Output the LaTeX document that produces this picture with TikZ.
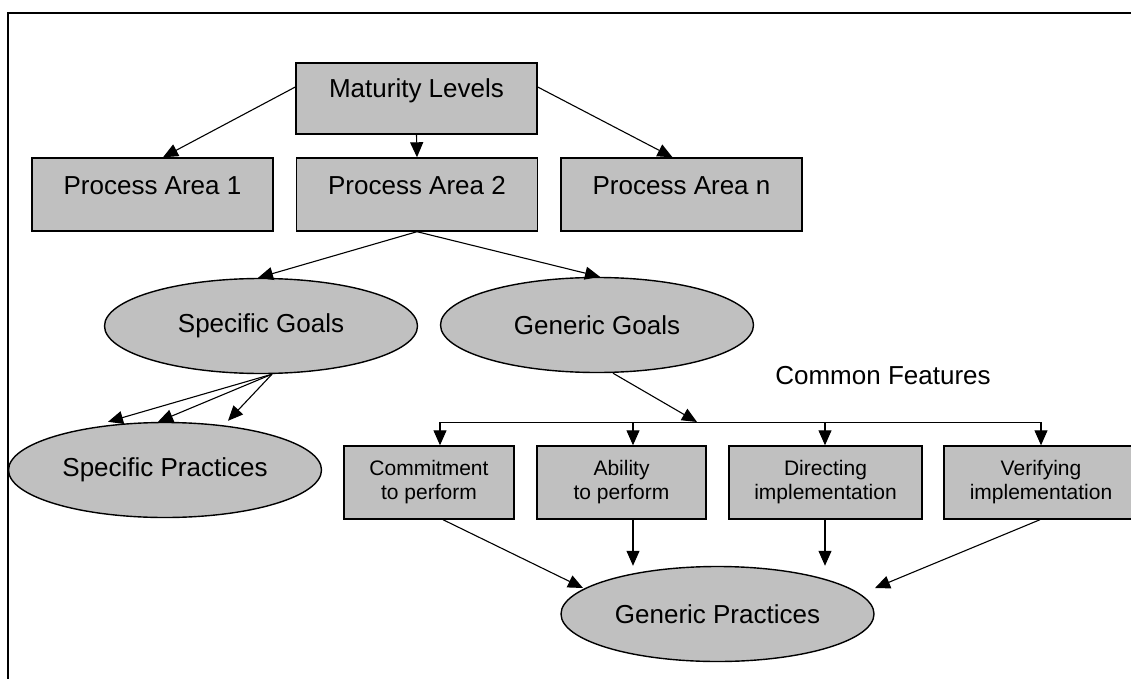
\documentclass[tikz,border=0pt]{standalone}
\usepackage{fontspec}
\setmainfont{Liberation Sans}
\usetikzlibrary{arrows.meta,shapes.geometric,calc}
\definecolor{boxgray}{RGB}{192,192,192}
\begin{document}
\begin{tikzpicture}[x=1pt,y=-1pt,
  bigbox/.style={draw, fill=boxgray, line width=1.4pt, inner sep=0pt,
    minimum width=241pt, text height=36pt, text depth=37pt,
    font=\fontsize{26}{30}\selectfont},
  smallbox/.style={draw, fill=boxgray, line width=1.4pt, inner sep=0pt,
    minimum height=73pt, align=center, font=\fontsize{21}{24}\selectfont},
  oval/.style={draw, fill=boxgray, ellipse, line width=1.4pt, inner sep=0pt,
    minimum width=313pt, minimum height=95pt, font=\fontsize{26}{30}\selectfont},
  arr/.style={-{Triangle[length=15pt,width=13pt]}, line width=1.1pt},
  busline/.style={line width=0.9pt},
  frameline/.style={line width=1.3pt}]
\clip (0,0) rectangle (1131,679);
% frame
\draw[frameline] (8,679) -- (8,13) -- (1131,13);
% top level
\node[bigbox, text height=35pt, text depth=36pt] (ml) at (416.5,98.5) {Maturity Levels};
\node[bigbox] (pa1) at (152.5,194.5) {Process Area 1};
\node[bigbox] (pa2) at (417,194.5) {Process Area 2};
\node[bigbox] (pan) at (681.5,194.5) {Process Area n};
% goals
\node[oval] (sg) at (261,326) {Specific Goals};
\node[oval] (gg) at (597,325) {Generic Goals};
\node[oval] (sp) at (165,470) {Specific Practices};
\node[oval] (gp) at (717.5,614) {Generic Practices};
% common features
\node[font=\fontsize{26}{30}\selectfont, inner sep=0pt] (cf) at (883,376) {Common Features};
\node[smallbox, minimum width=170pt] (c1) at (429,482.5) {Commitment\\to perform};
\node[smallbox, minimum width=169pt] (c2) at (621.5,482.5) {Ability\\to perform};
\node[smallbox, minimum width=193pt] (c3) at (825.5,482.5) {Directing\\implementation};
\node[smallbox, minimum width=194pt] (c4) at (1041,482.5) {Verifying\\implementation};
% bus coordinates
\coordinate (d1) at (440,422);
\coordinate (d2) at (633,422);
\coordinate (d3) at (825,422);
\coordinate (d4) at (1041,422);
\coordinate (hit) at (697,422);
% connectors
\draw[arr] ($(ml.west)+(0,-11.5)$) -- ($(pa1.north)+(10.5,0)$);
\draw[arr] (ml.south) -- (pa2.north);
\draw[arr] ($(ml.east)+(0,-11.5)$) -- ($(pan.north)+(-9,0)$);
\draw[arr] (pa2.south) -- ($(sg.north)+(-3,0)$);
\draw[arr] (pa2.south) -- ($(gg.north)+(3,0)$);
\draw[arr] ($(sg.south)+(11,0)$) -- ($(sp.north)+(-57,0)$);
\draw[arr] ($(sg.south)+(11,0)$) -- ($(sp.north)+(-7,0)$);
\draw[arr] ($(sg.south)+(11,0)$) -- ($(sp.north)+(63,-1)$);
\draw[arr] ($(gg.south)+(16,0)$) -- (hit);
\draw[busline] (d1) -- (d4);
\draw[arr] (d1) -- (d1 |- c1.north);
\draw[arr] (d2) -- (d2 |- c2.north);
\draw[arr] (d3) -- (d3 |- c3.north);
\draw[arr] (d4) -- (d4 |- c4.north);
\draw[arr] ($(c1.south)+(14,0)$) -- ($(gp.center)+(-134.5,-26)$);
\draw[arr] (d2 |- c2.south) -- (d2 |- gp.north);
\draw[arr] (d3 |- c3.south) -- (d3 |- gp.north);
\draw[arr] ($(c4.south)+(-1,0)$) -- ($(gp.center)+(157.5,-26)$);
\end{tikzpicture}
\end{document}
